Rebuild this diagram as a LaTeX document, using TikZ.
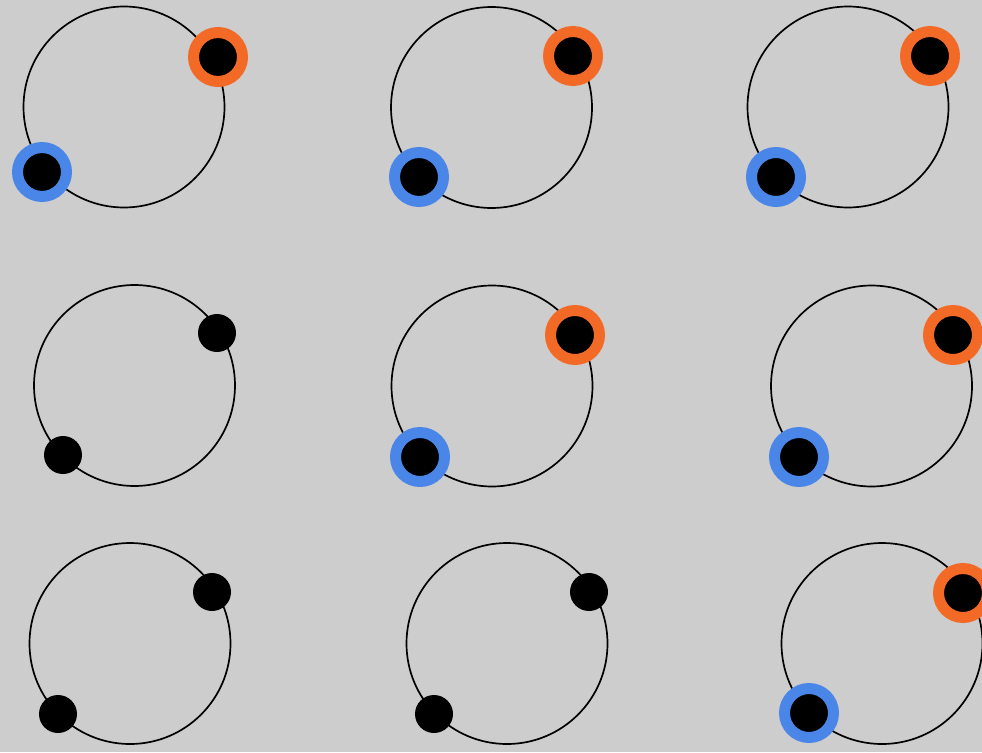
\documentclass[tikz,border=0pt]{standalone}
\usepackage{tikz}
\definecolor{bggrey}{RGB}{205,205,205}
\definecolor{ringorange}{RGB}{242,106,38}
\definecolor{ringblue}{RGB}{74,134,232}
\begin{document}
\begin{tikzpicture}[x=1pt,y=-1pt,
  orbit/.style={circle,draw=black,line width=1.7pt,minimum size=201pt,inner sep=0pt},
  dotplain/.style={circle,fill=black,minimum size=38pt,inner sep=0pt},
  dotorange/.style={circle,fill=black,draw=ringorange,line width=11pt,minimum size=49pt,inner sep=0pt},
  dotblue/.style={circle,fill=black,draw=ringblue,line width=11pt,minimum size=49pt,inner sep=0pt}]
\fill[bggrey] (0,0) rectangle (982,752);
\useasboundingbox (0,0) rectangle (982,752);
% row 1
\node[orbit] (c11) at (124,107) {};
\node[orbit] (c12) at (491.5,107.5) {};
\node[orbit] (c13) at (848,107) {};
% row 2
\node[orbit] (c21) at (134.5,385.5) {};
\node[orbit] (c22) at (492,386) {};
\node[orbit] (c23) at (871.5,386) {};
% row 3
\node[orbit] (c31) at (130,643.5) {};
\node[orbit] (c32) at (507,643.5) {};
\node[orbit] (c33) at (882,643.5) {};
% dots row 1
\node[dotorange] (o11) at (218,57) {};
\node[dotblue] (b11) at (42,172) {};
\node[dotorange] (o12) at (573,56) {};
\node[dotblue] (b12) at (419,177) {};
\node[dotorange] (o13) at (930,56) {};
\node[dotblue] (b13) at (776,177) {};
% dots row 2
\node[dotplain] (k21a) at (217,333) {};
\node[dotplain] (k21b) at (63,455) {};
\node[dotorange] (o22) at (575,335) {};
\node[dotblue] (b22) at (420,457) {};
\node[dotorange] (o23) at (953,335) {};
\node[dotblue] (b23) at (799,457) {};
% dots row 3
\node[dotplain] (k31a) at (212,592) {};
\node[dotplain] (k31b) at (58,714) {};
\node[dotplain] (k32a) at (589,592) {};
\node[dotplain] (k32b) at (434,714) {};
\node[dotorange] (o33) at (963,593) {};
\node[dotblue] (b33) at (809,713) {};
\end{tikzpicture}
\end{document}
